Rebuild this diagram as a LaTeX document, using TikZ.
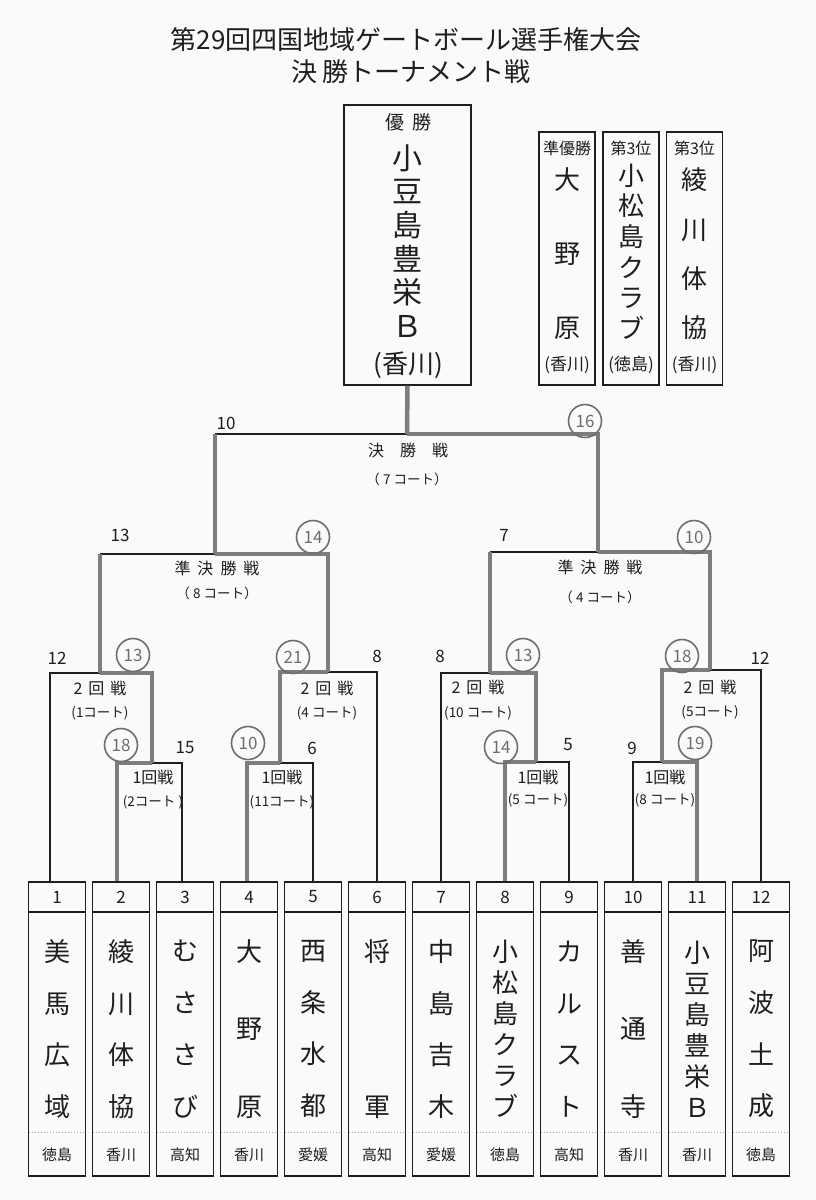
\documentclass[tikz,border=0pt]{standalone}
\usepackage{fontspec}
\setmainfont{Noto Sans CJK JP}
\usetikzlibrary{shapes}
\definecolor{inkBlack}{HTML}{1E1E1E}
\definecolor{lineGray}{HTML}{7D7D7D}
\definecolor{ringGray}{HTML}{6E6E6E}
\definecolor{paperWhite}{HTML}{FAFAF9}

\begin{document}
\begin{tikzpicture}[x = 1pt, y = -1pt, font = \fontsize{15}{18}\selectfont, text = inkBlack]
\tikzstyle{titleStyle} = [font = \fontsize{26}{30}\selectfont]
\tikzstyle{thinStyle} = [draw = inkBlack, line width = 1.1pt]
\tikzstyle{thickStyle} = [draw = lineGray, line width = 4.5pt, line cap = square]
\tikzstyle{dotStyle} = [draw = gray!70, line width = 0.6pt, dash pattern = on 1.5pt off 1.5pt]
\tikzstyle{boxStyle} = [shape = rectangle, draw = inkBlack, line width = 1.3pt, inner sep = 0pt]
\tikzstyle{champStyle} = [boxStyle, minimum width = 127pt, minimum height = 280pt]
\tikzstyle{placeStyle} = [boxStyle, minimum width = 56pt, minimum height = 253pt]
\tikzstyle{teamStyle} = [boxStyle, minimum width = 57pt, minimum height = 294pt, align = center, font = \fontsize{26}{51.7}\selectfont, path picture = {\draw[inkBlack, line width = 1.1pt] ([yshift = -30pt]path picture bounding box.north west) -- ([yshift = -30pt]path picture bounding box.north east); \draw[dotStyle] ([yshift = 44pt]path picture bounding box.south west) -- ([yshift = 44pt]path picture bounding box.south east);}]
\tikzstyle{threeStyle} = [font = \fontsize{26}{77.5}\selectfont]
\tikzstyle{twoStyle} = [font = \fontsize{26}{155}\selectfont]
\tikzstyle{sixStyle} = [font = \fontsize{26}{31}\selectfont]
\tikzstyle{numStyle} = [font = \fontsize{17}{20}\selectfont]
\tikzstyle{prefStyle} = [font = \fontsize{15}{18}\selectfont]
\tikzstyle{headStyle} = [font = \fontsize{16}{18}\selectfont]
\tikzstyle{placeName} = [align = center]
\tikzstyle{placePref} = [font = \fontsize{17}{20}\selectfont]
\tikzstyle{scoreStyle} = [font = \fontsize{17}{20}\selectfont]
\tikzstyle{winStyle} = [shape = circle, draw = ringGray, line width = 1.6pt, minimum size = 33pt, inner sep = 0pt, text = ringGray, font = \fontsize{17}{20}\selectfont]
\tikzstyle{roundStyle} = [font = \fontsize{16}{18}\selectfont]
\tikzstyle{courtStyle} = [font = \fontsize{13.5}{15}\selectfont]
\fill[paperWhite] (0, 0) rectangle (816, 1200);
\useasboundingbox (0, 0) rectangle (816, 1200);
\node[titleStyle] (title) at (406, 40) {第29回四国地域ゲートボール選手権大会};
\node[titleStyle] (subtitle) at (411, 72) {決\hspace{6pt}勝トーナメント戦};
\node[champStyle] (champ) at (407.5, 245) {};
\node[font = \fontsize{19}{22}\selectfont] (champHead) at (408, 122) {優\hspace{8pt}勝};
\node[align = center, font = \fontsize{30}{33.6}\selectfont] (champName) at (407, 241) {小\\豆\\島\\豊\\栄\\Ｂ};
\node[font = \fontsize{26}{30}\selectfont] (champPref) at (408, 365) {(香川)};
\node[placeStyle] (second) at (567, 258.5) {};
\node[headStyle] (secondHead) at (567, 148) {準優勝};
\node[placeName, font = \fontsize{26}{74}\selectfont] (secondName) at (567, 254) {大\\野\\原};
\node[placePref] (secondPref) at (567, 365) {(香川)};
\node[placeStyle] (thirdA) at (631, 258.5) {};
\node[headStyle] (thirdAHead) at (631, 148) {第3位};
\node[placeName, font = \fontsize{26}{30.6}\selectfont] (thirdAName) at (631, 251.5) {小\\松\\島\\ク\\ラ\\ブ};
\node[placePref] (thirdAPref) at (631, 365) {(徳島)};
\node[placeStyle] (thirdB) at (694.5, 258.5) {};
\node[headStyle] (thirdBHead) at (694.5, 148) {第3位};
\node[placeName, font = \fontsize{26}{49.3}\selectfont] (thirdBName) at (694.5, 254) {綾\\川\\体\\協};
\node[placePref] (thirdBPref) at (694.5, 365) {(香川)};
\node[teamStyle] (t1) at (57, 1029) {美\\馬\\広\\域};
\node[numStyle] (n1) at (57, 897) {1};
\node[prefStyle] (p1) at (57, 1155) {徳島};
\node[teamStyle] (t2) at (121, 1029) {綾\\川\\体\\協};
\node[numStyle] (n2) at (121, 897) {2};
\node[prefStyle] (p2) at (121, 1155) {香川};
\node[teamStyle] (t3) at (185, 1029) {む\\さ\\さ\\び};
\node[numStyle] (n3) at (185, 897) {3};
\node[prefStyle] (p3) at (185, 1155) {高知};
\node[teamStyle, threeStyle] (t4) at (249, 1029) {大\\野\\原};
\node[numStyle] (n4) at (249, 897) {4};
\node[prefStyle] (p4) at (249, 1155) {香川};
\node[teamStyle] (t5) at (313, 1029) {西\\条\\水\\都};
\node[numStyle] (n5) at (313, 897) {5};
\node[prefStyle] (p5) at (313, 1155) {愛媛};
\node[teamStyle, twoStyle] (t6) at (377, 1029) {将\\軍};
\node[numStyle] (n6) at (377, 897) {6};
\node[prefStyle] (p6) at (377, 1155) {高知};
\node[teamStyle] (t7) at (441, 1029) {中\\島\\吉\\木};
\node[numStyle] (n7) at (441, 897) {7};
\node[prefStyle] (p7) at (441, 1155) {愛媛};
\node[teamStyle, sixStyle] (t8) at (505, 1029) {小\\松\\島\\ク\\ラ\\ブ};
\node[numStyle] (n8) at (505, 897) {8};
\node[prefStyle] (p8) at (505, 1155) {徳島};
\node[teamStyle] (t9) at (569, 1029) {カ\\ル\\ス\\ト};
\node[numStyle] (n9) at (569, 897) {9};
\node[prefStyle] (p9) at (569, 1155) {高知};
\node[teamStyle, threeStyle] (t10) at (633, 1029) {善\\通\\寺};
\node[numStyle] (n10) at (633, 897) {10};
\node[prefStyle] (p10) at (633, 1155) {香川};
\node[teamStyle, sixStyle] (t11) at (697, 1029) {小\\豆\\島\\豊\\栄\\Ｂ};
\node[numStyle] (n11) at (697, 897) {11};
\node[prefStyle] (p11) at (697, 1155) {香川};
\node[teamStyle] (t12) at (761, 1029) {阿\\波\\土\\成};
\node[numStyle] (n12) at (761, 897) {12};
\node[prefStyle] (p12) at (761, 1155) {徳島};
\coordinate (m1) at (152, 763);
\coordinate (m2) at (100, 673);
\coordinate (m3) at (280, 763);
\coordinate (m4) at (328, 672);
\coordinate (sf1) at (215, 554);
\coordinate (m5) at (536, 762);
\coordinate (m6) at (490, 673);
\coordinate (m7) at (662, 762);
\coordinate (m8) at (710, 670);
\coordinate (sf2) at (598, 552);
\coordinate (fin) at (407, 434);
\draw[thinStyle] ([xshift = -7pt]t1.north) |- (m2);
\draw[thinStyle] ([xshift = -3pt]t3.north) |- (m1);
\draw[thinStyle] (t5.north) |- (m3);
\draw[thinStyle] (t6.north) |- (m4);
\draw[thinStyle] (m2 |- sf1) -- (sf1);
\draw[thinStyle] (t7.north) |- (m6);
\draw[thinStyle] (t9.north) |- (m5);
\draw[thinStyle] (t10.north) |- (m7);
\draw[thinStyle] (t12.north) |- (m8);
\draw[thinStyle] (m6 |- sf2) -- (sf2);
\draw[thinStyle] (sf1 |- fin) -- (fin);
\draw[thickStyle] ([xshift = -4pt]t2.north) |- (m1);
\draw[thickStyle] (m1) |- (m2);
\draw[thickStyle] (m2) -- (m2 |- sf1);
\draw[thickStyle] ([xshift = -2pt]t4.north) |- (m3);
\draw[thickStyle] (m3) |- (m4);
\draw[thickStyle] (m4) |- (sf1);
\draw[thickStyle] (sf1) -- (sf1 |- fin);
\draw[thickStyle] (t8.north) |- (m5);
\draw[thickStyle] (m5) |- (m6);
\draw[thickStyle] (m6) -- (m6 |- sf2);
\draw[thickStyle] (t11.north) |- (m7);
\draw[thickStyle] (m7) |- (m8);
\draw[thickStyle] (m8) |- (sf2);
\draw[thickStyle] (sf2) |- (fin);
\draw[thickStyle] (fin) -- (champ.south);
\node[winStyle] (m1a) at (121, 745) {18};
\node[scoreStyle] (m1b) at (185, 748) {15};
\node[scoreStyle] (m2a) at (57, 658) {12};
\node[winStyle] (m2b) at (133, 655) {13};
\node[winStyle] (m3a) at (248, 743) {10};
\node[scoreStyle] (m3b) at (312, 748) {6};
\node[winStyle] (m4a) at (293, 657) {21};
\node[scoreStyle] (m4b) at (377, 656) {8};
\node[scoreStyle] (sf1a) at (120, 535) {13};
\node[winStyle] (sf1b) at (313, 537) {14};
\node[winStyle] (m5a) at (501, 747) {14};
\node[scoreStyle] (m5b) at (568, 745) {5};
\node[scoreStyle] (m6a) at (440, 656) {8};
\node[winStyle] (m6b) at (523, 655) {13};
\node[scoreStyle] (m7a) at (632, 748) {9};
\node[winStyle] (m7b) at (695, 743) {19};
\node[winStyle] (m8a) at (682, 656) {18};
\node[scoreStyle] (m8b) at (760, 658) {12};
\node[scoreStyle] (sf2a) at (504, 535) {7};
\node[winStyle] (sf2b) at (694, 537) {10};
\node[scoreStyle] (fina) at (226, 423) {10};
\node[winStyle] (finb) at (585, 421) {16};
\node[roundStyle] (finRound) at (408, 450) {決　勝　戦};
\node[courtStyle] (finCourt) at (407, 479) {（ 7 コート）};
\node[roundStyle] (sf1Round) at (217, 568) {準\hspace{7pt}決\hspace{7pt}勝\hspace{7pt}戦};
\node[courtStyle] (sf1Court) at (217, 593) {（ 8 コート）};
\node[roundStyle] (sf2Round) at (600, 567) {準\hspace{7pt}決\hspace{7pt}勝\hspace{7pt}戦};
\node[courtStyle] (sf2Court) at (600, 597) {（ 4 コート）};
\node[roundStyle] (m2Round) at (100, 688) {2\hspace{6pt}回\hspace{6pt}戦};
\node[courtStyle] (m2Court) at (100, 713) {(1コート)};
\node[roundStyle] (m4Round) at (327, 688) {2\hspace{6pt}回\hspace{6pt}戦};
\node[courtStyle] (m4Court) at (327, 713) {(4 コート)};
\node[roundStyle] (m6Round) at (478, 687) {2\hspace{6pt}回\hspace{6pt}戦};
\node[courtStyle] (m6Court) at (478, 713) {(10 コート)};
\node[roundStyle] (m8Round) at (710, 687) {2\hspace{6pt}回\hspace{6pt}戦};
\node[courtStyle] (m8Court) at (710, 712) {(5コート)};
\node[roundStyle] (m1Round) at (153, 777) {1回戦};
\node[courtStyle] (m1Court) at (153, 802) {(2コート )};
\node[roundStyle] (m3Round) at (282, 777) {1回戦};
\node[courtStyle] (m3Court) at (282, 802) {(11コート)};
\node[roundStyle] (m5Round) at (538, 777) {1回戦};
\node[courtStyle] (m5Court) at (538, 800) {(5 コート)};
\node[roundStyle] (m7Round) at (665, 777) {1回戦};
\node[courtStyle] (m7Court) at (665, 800) {(8 コート)};
\end{tikzpicture}
\end{document}
